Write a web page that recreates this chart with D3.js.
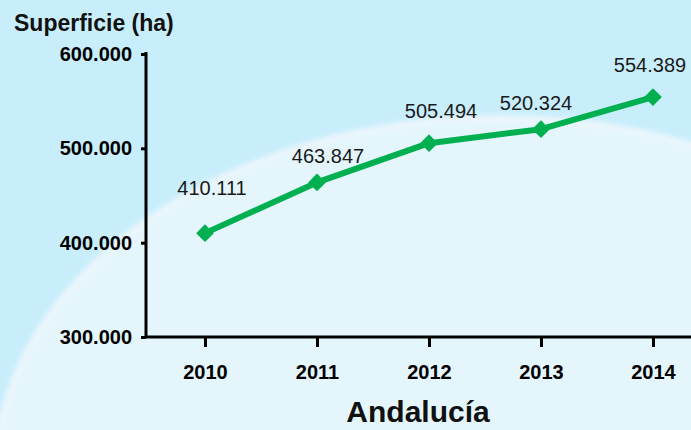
<!DOCTYPE html>
<html>
<head>
<meta charset="utf-8">
<script src="https://cdn.jsdelivr.net/npm/d3@7"></script>
<style>
  body { margin: 0; }
  svg { display: block; font-family: 'Liberation Sans', Arial, sans-serif; }
</style>
</head>
<body>
<svg></svg>
<script>
// data
var years  = ['2010', '2011', '2012', '2013', '2014'];
var values = [410111, 463847, 505494, 520324, 554389];
var labels = ['410.111', '463.847', '505.494', '520.324', '554.389'];
var yTicks = [300000, 400000, 500000, 600000];
var yTickLabels = ['300.000', '400.000', '500.000', '600.000'];

var W = 691, H = 430;
var margin = {top: 54, right: 0, bottom: 93, left: 146};
var font = "'Liberation Sans', Arial, sans-serif";

var svg = d3.select('svg').attr('width', W).attr('height', H);

// background
var defs = svg.append('defs');
defs.append('filter').attr('id', 'soft')
    .append('feGaussianBlur').attr('stdDeviation', 2.5);

svg.append('rect').attr('width', W).attr('height', H).attr('fill', '#c8eefc');
svg.append('ellipse')
    .attr('cx', 500).attr('cy', 478).attr('rx', 505).attr('ry', 360)
    .attr('fill', '#e4f6fc')
    .attr('stroke', '#edf6fb').attr('stroke-width', 6)
    .attr('filter', 'url(#soft)');

var x = d3.scalePoint()
    .domain(years)
    .range([205, 653]);

var y = d3.scaleLinear()
    .domain([300000, 600000])
    .range([H - margin.bottom, margin.top]);

// y axis
var yAxis = svg.append('g')
    .attr('transform', 'translate(' + margin.left + ',0)')
    .call(d3.axisLeft(y).tickValues(yTicks).tickSize(5).tickPadding(9)
        .tickFormat((d, i) => yTickLabels[i]));
yAxis.select('.domain').attr('d', 'M0,' + (margin.top - 2) + 'V' + (H - margin.bottom + 1))
    .attr('stroke', '#000').attr('stroke-width', 3);
yAxis.selectAll('.tick line').attr('stroke', '#000').attr('stroke-width', 3);
yAxis.selectAll('.tick text')
    .attr('fill', '#000').attr('font-size', 20).attr('font-weight', 'bold')
    .attr('font-family', font);

// x axis
var xAxis = svg.append('g')
    .attr('transform', 'translate(0,' + (H - margin.bottom) + ')')
    .call(d3.axisBottom(x).tickSize(10).tickPadding(18));
xAxis.select('.domain').attr('d', 'M' + (margin.left - 1) + ',0H' + W)
    .attr('stroke', '#000').attr('stroke-width', 3);
xAxis.selectAll('.tick line').attr('stroke', '#000').attr('stroke-width', 3);
xAxis.selectAll('.tick text')
    .attr('fill', '#000').attr('font-size', 20).attr('font-weight', 'bold')
    .attr('font-family', font);

// line
var line = d3.line()
    .x((d, i) => x(years[i]))
    .y(d => y(d));

svg.append('path')
    .datum(values)
    .attr('d', line)
    .attr('fill', 'none')
    .attr('stroke', '#00b050')
    .attr('stroke-width', 6)
    .attr('stroke-linejoin', 'round');

svg.selectAll('.marker')
    .data(values)
    .enter()
    .append('path')
    .attr('class', 'marker')
    .attr('d', d3.symbol().type(d3.symbolDiamond2).size(200))
    .attr('transform', (d, i) => 'translate(' + x(years[i]) + ',' + y(d) + ')')
    .attr('fill', '#00b050');

// value labels (small nudges so they sit like the original)
var labelNudge = [[7, -38], [11, -19], [12, -25], [-5, -19], [-3, -25]];

svg.selectAll('.vlabel')
    .data(values)
    .enter()
    .append('text')
    .attr('class', 'vlabel')
    .attr('x', (d, i) => x(years[i]) + labelNudge[i][0])
    .attr('y', (d, i) => y(d) + labelNudge[i][1])
    .attr('text-anchor', 'middle')
    .attr('font-size', 20)
    .attr('font-family', font)
    .attr('fill', '#1a1a1a')
    .text((d, i) => labels[i]);

// titles
svg.append('text')
    .attr('x', 14).attr('y', 31)
    .attr('font-size', 23).attr('font-weight', 'bold')
    .attr('font-family', font)
    .attr('fill', '#111')
    .text('Superficie (ha)');

svg.append('text')
    .attr('x', 418).attr('y', 422)
    .attr('text-anchor', 'middle')
    .attr('font-size', 30).attr('font-weight', 'bold')
    .attr('font-family', font)
    .attr('fill', '#111')
    .text('Andalucía');
</script>
</body>
</html>
